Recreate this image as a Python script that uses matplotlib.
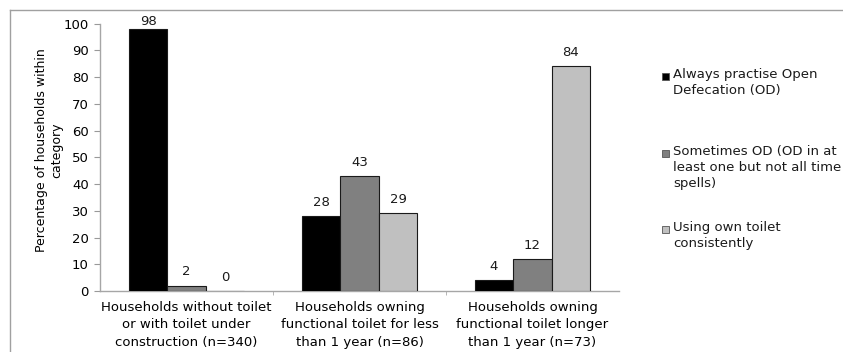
import matplotlib
matplotlib.use("Agg")
import matplotlib.pyplot as plt
from matplotlib.patches import Rectangle
from matplotlib.lines import Line2D
import numpy as np

categories = [
    "Households without toilet\nor with toilet under\nconstruction (n=340)",
    "Households owning\nfunctional toilet for less\nthan 1 year (n=86)",
    "Households owning\nfunctional toilet longer\nthan 1 year (n=73)",
]
series_names = [
    "Always practise Open\nDefecation (OD)",
    "Sometimes OD (OD in at\nleast one but not all time\nspells)",
    "Using own toilet\nconsistently",
]
always_od = [98, 28, 4]
sometimes_od = [2, 43, 12]
own_toilet = [0, 29, 84]
yticks = list(range(0, 101, 10))

series = [always_od, sometimes_od, own_toilet]
colors = ["#000000", "#808080", "#c0c0c0"]

plt.rcParams["font.family"] = ["DejaVu Sans"]
fs = 9.5

fig = plt.figure(figsize=(8.43, 3.52), dpi=100)
W, H = 843, 352
ax = fig.add_axes([100 / W, 1 - 291 / H, 519 / W, 267.3 / H])

x = np.arange(len(categories))
width = 0.2225
for i, (vals, col) in enumerate(zip(series, colors)):
    pos = x + (i - 1) * width
    ax.bar(pos, vals, width=width, color=col, edgecolor="#1a1a1a", linewidth=0.8, zorder=3)
    for p, v in zip(pos, vals):
        # keep labels from running past the top of the plot area
        ax.text(p, min(v + 5.2, 100.8), str(v), ha="center", va="center",
                fontsize=fs, color="#1a1a1a", clip_on=False)

ax.set_xlim(-0.5, 2.5)
ax.set_ylim(0, 100)
ax.set_yticks(yticks)
ax.set_yticklabels([str(t) for t in yticks], fontsize=fs)
ax.set_xticks(x)
ax.set_xticklabels(categories, fontsize=fs, linespacing=1.45)
ax.set_xticks([0.5, 1.5], minor=True)
ax.tick_params(axis="x", which="major", length=0, pad=7)
ax.tick_params(axis="x", which="minor", length=3, color="#aaaaaa")
ax.tick_params(axis="y", length=4, color="#999999", pad=4)
for s in ["top", "right"]:
    ax.spines[s].set_visible(False)
for s in ["left", "bottom"]:
    ax.spines[s].set_color("#a6a6a6")
    ax.spines[s].set_linewidth(1.0)

ax.set_ylabel("Percentage of households within\ncategory", fontsize=9.0, linespacing=1.2)
ax.yaxis.set_label_coords((63 - 100) / 519, (291 - 150) / 267.3)

# legend drawn as squares and text in figure pixel space
leg_y = [76, 153, 229]
for yy, name, col in zip(leg_y, series_names, colors):
    fig.patches.append(Rectangle((662 / W, 1 - (yy + 3.5) / H), 7 / W, 7 / H,
                                 transform=fig.transFigure, facecolor=col,
                                 edgecolor="#555555", linewidth=0.6))
    fig.text(673 / W, 1 - (yy - 8) / H, name, fontsize=fs, va="top", ha="left",
             linespacing=1.3, color="#1a1a1a")

# outer chart frame (top and left edges)
fig.add_artist(Line2D([10 / W, 1], [1 - 10 / H, 1 - 10 / H], transform=fig.transFigure,
                      color="#a0a0a0", linewidth=1.0))
fig.add_artist(Line2D([10 / W, 10 / W], [0, 1 - 10 / H], transform=fig.transFigure,
                      color="#a0a0a0", linewidth=1.0))

fig.savefig("out.png", dpi=100)
